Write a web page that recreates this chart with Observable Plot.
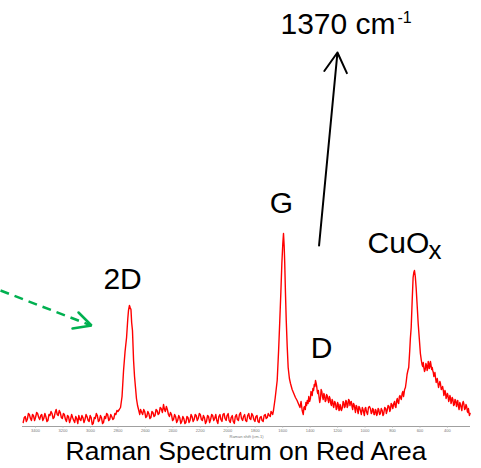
<!DOCTYPE html>
<html>
<head>
<meta charset="utf-8">
<script src="https://cdn.jsdelivr.net/npm/d3@7"></script>
<script src="https://cdn.jsdelivr.net/npm/@observablehq/plot@0.6"></script>
<style>
  body { margin: 0; background: #fff; }
  #chart svg { display: block; }
  #caption { font-family: "Liberation Sans", Arial, sans-serif; font-size: 26.5px; line-height: 24px; text-align: center; padding-left: 11px; margin-top: -1px; color: #000; }
</style>
</head>
<body>
<div id="chart"></div>
<div id="caption">Raman Spectrum on Red Area</div>
<script>
// Spectrum as [Raman shift (cm-1), intensity (a.u.)], by region
const baselineHigh = [
[3490,4],[3482,9],[3475,10],[3467,5],[3460,7],[3452,13],[3445,12],[3437,8],[3430,6],[3422,12],
[3415,11],[3407,6],[3400,9],[3392,14],[3385,13],[3377,9],[3370,7],[3362,11],[3355,12],[3347,6],
[3340,8],[3332,13],[3325,10],[3317,5],[3310,6],[3302,12],[3295,11],[3287,15],[3280,13],[3272,8],
[3265,9],[3257,14],[3250,17],[3242,12],[3235,11],[3227,16],[3220,14],[3212,9],[3205,8],[3197,13],
[3190,12],[3182,7],[3175,5],[3167,11],[3160,10],[3152,4],[3145,7],[3137,12],[3130,9],[3122,6],
[3115,4],[3107,10],[3100,8],[3092,3],[3085,11],[3077,7],[3070,6],[3062,11],[3055,9],[3047,4],
[3040,7],[3032,12],[3025,10],[3017,6],[3010,5],[3002,11],[2995,9],[2987,2],[2980,3],[2972,9],
[2965,8],[2957,13],[2950,11],[2942,5],[2935,6],[2927,11],[2920,9],[2912,3],[2905,4],[2897,10],
[2890,8],[2882,13],[2875,12],[2867,6],[2860,7],[2852,12],[2845,10],[2837,7],[2830,8],[2822,13],
[2815,12],[2807,16],[2800,15]
];
const peak2D = [
[2790,17],[2781,19],[2770,30],[2759,56],[2748,75],[2737,89],[2728,108],[2723,116],[2716,121],[2711,119],
[2705,117],[2700,104],[2694,96],[2686,66],[2679,50],[2672,39],[2665,28],[2657,21]
];
const baselineMid = [
[2648,16],[2641,12],[2635,17],[2627,14],[2620,12],[2612,17],[2605,15],[2597,9],[2590,10],[2582,15],
[2575,13],[2567,8],[2560,9],[2552,15],[2545,14],[2537,10],[2530,11],[2522,17],[2515,16],[2507,12],
[2500,13],[2492,19],[2485,18],[2476,14],[2468,22],[2461,17],[2455,15],[2447,20],[2440,17],[2432,12],
[2425,10],[2417,14],[2410,12],[2402,6],[2395,7],[2387,12],[2380,10],[2372,4],[2365,6],[2357,11],
[2350,9],[2342,3],[2335,5],[2327,10],[2320,8],[2312,3],[2305,4],[2297,10],[2290,9],[2282,4],
[2275,6],[2267,12],[2260,10],[2252,5],[2245,7],[2237,12],[2230,11],[2222,6],[2215,8],[2207,13],
[2200,12],[2192,7],[2185,6],[2177,11],[2170,9],[2162,3],[2155,5],[2147,11],[2140,10],[2132,4],
[2125,7],[2117,12],[2110,11],[2102,6],[2095,8],[2087,12],[2080,6],[2072,3],[2065,10],[2057,12],
[2050,7],[2042,5],[2035,12],[2027,13],[2020,8],[2012,6],[2005,11],[1997,13],[1990,6],[1982,4],
[1975,9],[1967,11],[1960,5],[1952,3],[1945,10],[1937,12],[1930,7],[1922,6],[1915,12],[1907,14],
[1900,8],[1892,6],[1885,10],[1877,12],[1870,6],[1862,5],[1855,11],[1847,13],[1840,8],[1832,7],
[1825,13],[1817,11],[1810,7],[1802,5],[1795,10],[1787,11],[1780,5],[1772,4],[1765,9],[1757,10],
[1750,6],[1742,5],[1735,11],[1727,12],[1720,8],[1712,9],[1705,13],[1697,11],[1690,10],[1685,15],
[1680,14],[1673,12]
];
const peakG = [
[1667,16],[1655,28],[1640,46],[1630,75],[1621,106],[1613,135],[1606,163],[1599,183],[1594,193],[1589,180],
[1585,163],[1580,135],[1574,106],[1567,80],[1560,59],[1551,48],[1543,43],[1531,37],[1519,33],[1507,29],
[1495,26],[1483,22],[1474,19]
];
const regionD = [
[1466,25],[1458,16],[1450,12],[1445,19],[1440,20],[1435,17],[1431,24],[1426,21],[1421,26],[1415,23],
[1410,30],[1404,25],[1398,28],[1394,35],[1390,34],[1385,31],[1380,38],[1375,36],[1370,42],[1365,40],
[1361,46],[1356,43],[1352,40],[1348,35],[1344,33],[1340,36],[1335,29],[1330,24],[1325,28],[1320,37],
[1315,35],[1310,30],[1305,27],[1300,33],[1295,31],[1290,25],[1285,26],[1280,32],[1276,31],[1270,27],
[1265,24],[1260,30],[1255,28],[1250,23],[1245,21],[1240,27],[1235,25],[1231,20],[1228,19],[1221,25],
[1215,23],[1210,17],[1205,18],[1200,24],[1195,22],[1190,16],[1185,17],[1182,22],[1179,21],[1172,16],
[1165,19],[1160,25],[1155,24],[1150,19],[1145,20],[1140,26],[1135,25],[1130,19],[1125,21],[1120,27],
[1115,26],[1110,21],[1106,24],[1100,25],[1095,20],[1090,17],[1085,23],[1080,22],[1075,18],[1070,14],
[1065,21],[1060,20],[1055,16],[1050,13],[1045,20],[1040,19],[1034,16],[1027,12],[1020,19],[1015,17],
[1010,14],[1005,11],[1000,18],[995,19],[990,15],[982,12],[975,19],[968,20],[961,18],[955,13],
[950,14],[945,18],[940,17],[935,12],[930,12],[925,17],[920,16],[915,11],[910,13],[905,18],
[900,17],[894,12],[888,13],[882,18],[875,16],[870,11],[865,12],[857,19],[850,18],[845,13],
[839,16],[832,21],[825,20],[820,15],[815,17],[810,23],[805,22],[798,18],[791,23],[785,25],
[780,20],[775,19],[770,26],[765,28],[760,24],[755,23],[750,30],[746,31],[742,29],[736,27],
[730,33],[725,35],[720,30],[716,33]
];
const peakCuOx = [
[712,37],[706,39],[700,45],[694,52],[688,56],[682,59],[675,75],[670,88],[664,99],[657,125],
[650,149],[645,154],[640,156],[634,150],[628,139],[620,120],[613,103],[605,88],[597,73],[590,66],
[585,62]
];
const tail = [
[580,60],[576,64],[572,59],[567,55],[562,57],[557,63],[552,61],[548,56],[544,58],[540,65],
[536,63],[532,58],[528,60],[524,65],[520,62],[515,57],[511,59],[507,56],[503,54],[499,50],
[495,51],[491,54],[487,49],[482,44],[478,46],[474,48],[470,44],[465,39],[460,42],[455,45],
[451,43],[445,37],[440,38],[435,40],[430,36],[426,31],[422,33],[418,36],[414,34],[410,28],
[405,30],[400,33],[396,31],[391,25],[387,27],[382,31],[378,29],[374,23],[370,25],[365,29],
[360,27],[355,21],[350,22],[345,27],[340,26],[334,20],[329,24],[325,26],[320,20],[315,17],
[310,24],[305,22],[300,19],[295,16],[290,23],[285,25],[281,23],[275,17],[270,18],[265,22],
[260,20],[255,15],[250,14],[247,18],[245,16],[240,11],[235,13]
];
const xTicks = [3400,3200,3000,2800,2600,2400,2200,2000,1800,1600,1400,1200,1000,800,600,400];

// Peak labels and where their baselines sit (shift, intensity units)
const peakLabels = ["G", "2D", "D"];
const peakShift = [1609, 2766, 1317];
const peakY = [214, 138, 69];

const spectrum = [...baselineHigh, ...peak2D, ...baselineMid, ...peakG, ...regionD, ...peakCuOx, ...tail]
  .map(([s, v]) => ({shift: s, intensity: v}));
const labels = peakLabels.map((t, i) => ({text: t, shift: peakShift[i], y: peakY[i]}));

const font = "Liberation Sans, Arial, sans-serif";

const chart = Plot.plot({
  width: 481,
  height: 440,
  marginLeft: 22,
  marginRight: 11,
  marginTop: 0,
  marginBottom: 14,
  x: {domain: [3495, 232]},
  y: {domain: [0, 426], axis: null},
  style: {fontFamily: font, background: "white", overflow: "visible"},
  marks: [
    Plot.ruleY([0], {stroke: "#a0a0a0", strokeWidth: 1}),
    Plot.axisX({ticks: xTicks, tickFormat: d => String(d), tickSize: 1.5, tickPadding: 1, fontSize: 4, fill: "#777", stroke: "#aaa",
      label: "Raman shift (cm-1)", labelAnchor: "center", labelArrow: "none", labelOffset: 11}),
    Plot.line(spectrum, {x: "shift", y: "intensity", stroke: "#ff0000", strokeWidth: 1.4, curve: "linear"}),
    Plot.text(labels, {x: "shift", y: "y", text: "text", fontSize: 30, fill: "#000", textAnchor: "middle", lineAnchor: "bottom"}),
    Plot.text([{t: "CuO", shift: 982, y: 174}], {x: "shift", y: "y", text: "t", fontSize: 30, fill: "#000", textAnchor: "start", lineAnchor: "bottom"}),
    Plot.text([{t: "x", shift: 538, y: 168}], {x: "shift", y: "y", text: "t", fontSize: 26, fill: "#000", textAnchor: "start", lineAnchor: "bottom"}),
    Plot.text([{t: "1370 cm", shift: 1616, y: 393}], {x: "shift", y: "y", text: "t", fontSize: 30, fill: "#000", textAnchor: "start", lineAnchor: "bottom"}),
    Plot.text([{t: "-1", shift: 764, y: 404}], {x: "shift", y: "y", text: "t", fontSize: 16, fill: "#000", textAnchor: "start", lineAnchor: "bottom"}),
    Plot.arrow([{x1: 1335, y1: 181, x2: 1201, y2: 374}], {x1: "x1", y1: "y1", x2: "x2", y2: "y2", stroke: "#000", strokeWidth: 2, headLength: 17, headAngle: 60}),
    Plot.link([{x1: 3655, y1: 136, x2: 2995, y2: 101}], {x1: "x1", y1: "y1", x2: "x2", y2: "y2", stroke: "#00b050", strokeWidth: 2.5, strokeDasharray: "9,6"}),
    Plot.line([{s: 3087, y: 114}, {s: 2992, y: 101}, {s: 3131, y: 98}], {x: "s", y: "y", stroke: "#00b050", strokeWidth: 2.5, strokeLinejoin: "miter"})
  ]
});
document.getElementById("chart").append(chart);
</script>
</body>
</html>
